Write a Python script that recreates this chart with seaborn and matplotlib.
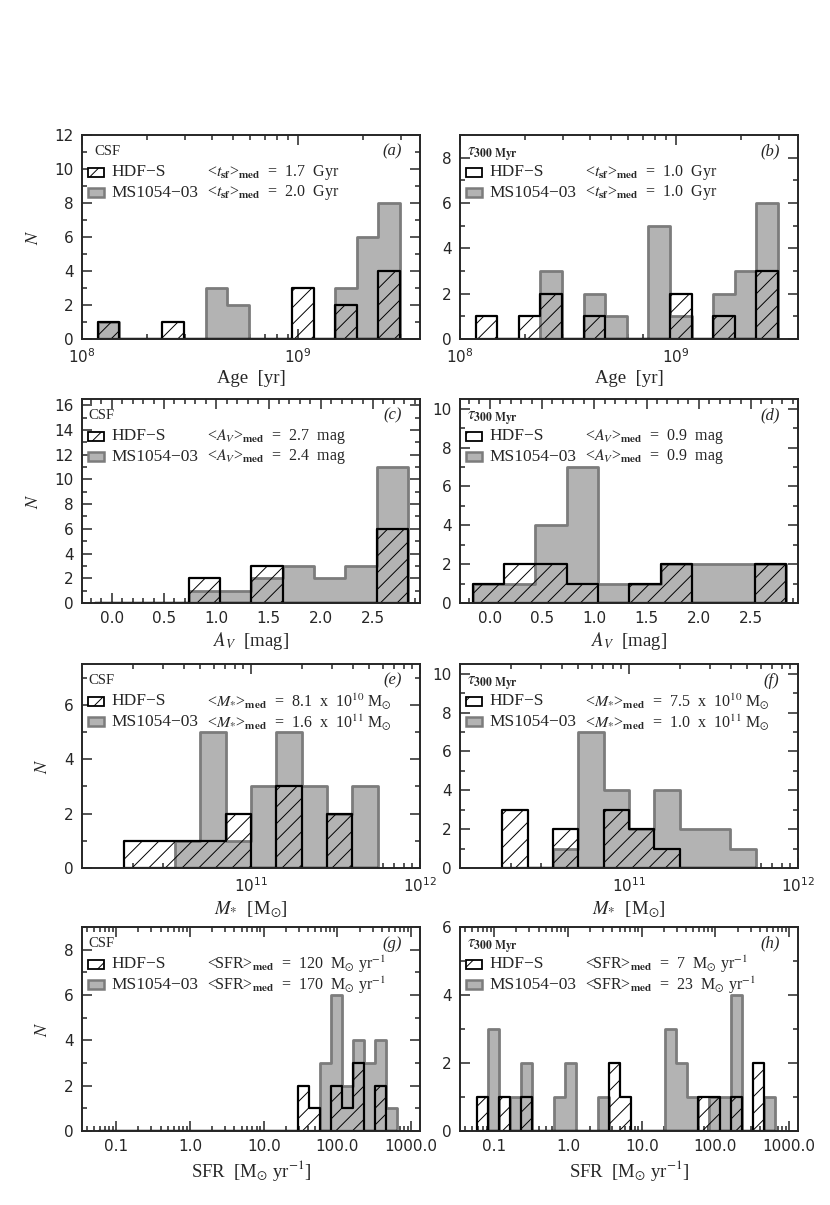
import matplotlib
matplotlib.use('Agg')
import matplotlib.pyplot as plt
from matplotlib.patches import Rectangle
from matplotlib.ticker import (MultipleLocator, FixedLocator, FuncFormatter,
                               NullFormatter, LogLocator, LogFormatterSciNotation)
import numpy as np
import seaborn as sns

# ------------------------------------------------------------------
# counts per bin (HDF-S = hatched, MS1054-03 = grey)
# ------------------------------------------------------------------

# age, log10(t / yr) bin edges, used by (a) and (b)
age_edges = [8.072, 8.172, 8.272, 8.372, 8.472, 8.572, 8.672, 8.772,
             8.872, 8.972, 9.072, 9.172, 9.272, 9.372, 9.472]
age_csf_hdfs = [1, 0, 0, 1, 0, 0, 0, 0, 0, 3, 0, 2, 0, 4]
age_csf_ms = [1, 0, 0, 0, 0, 3, 2, 0, 0, 0, 0, 3, 6, 8]
age_tau_hdfs = [1, 0, 1, 2, 0, 1, 0, 0, 0, 2, 0, 1, 0, 3]
age_tau_ms = [0, 0, 0, 3, 0, 2, 1, 0, 5, 1, 0, 2, 3, 6]

# A_V [mag] bin edges, used by (c) and (d)
av_edges = [-0.165, 0.135, 0.435, 0.735, 1.035, 1.335, 1.635, 1.935,
            2.235, 2.535, 2.835]
av_csf_hdfs = [0, 0, 0, 2, 0, 3, 0, 0, 0, 6]
av_csf_ms = [0, 0, 0, 1, 1, 2, 3, 2, 3, 11]
av_tau_hdfs = [1, 2, 2, 1, 0, 1, 2, 0, 0, 2]
av_tau_ms = [1, 1, 4, 7, 1, 1, 2, 2, 2, 2]

# stellar mass, log10(M / Msun) bin edges, used by (e) and (f)
mass_edges = [10.25, 10.40, 10.55, 10.70, 10.85, 11.00, 11.15, 11.30,
              11.45, 11.60, 11.75]
mass_csf_hdfs = [1, 1, 1, 1, 2, 0, 3, 0, 2, 0]
mass_csf_ms = [0, 0, 1, 5, 1, 3, 5, 3, 2, 3]
mass_tau_hdfs = [3, 0, 2, 0, 3, 2, 1, 0, 0, 0]
mass_tau_ms = [0, 0, 1, 7, 4, 2, 4, 2, 2, 1]

# SFR, log10(SFR / Msun yr^-1) bin edges, used by (g) and (h)
sfr_edges = [-1.24, -1.09, -0.94, -0.79, -0.64, -0.49, -0.34, -0.19, -0.04,
             0.11, 0.26, 0.41, 0.56, 0.71, 0.86, 1.01, 1.16, 1.31, 1.46,
             1.61, 1.76, 1.91, 2.06, 2.21, 2.36, 2.51, 2.66, 2.81]
sfr_csf_hdfs = [0, 0, 0, 0, 0, 0, 0, 0, 0, 0, 0, 0, 0, 0, 0, 0, 0, 0,
                2, 1, 0, 2, 1, 3, 0, 2, 0]
sfr_csf_ms = [0, 0, 0, 0, 0, 0, 0, 0, 0, 0, 0, 0, 0, 0, 0, 0, 0, 0,
              0, 0, 3, 6, 2, 4, 3, 4, 1]
sfr_tau_hdfs = [1, 0, 1, 0, 1, 0, 0, 0, 0, 0, 0, 0, 2, 1, 0, 0, 0, 0,
                0, 0, 1, 1, 0, 1, 0, 2, 0]
sfr_tau_ms = [0, 3, 0, 1, 2, 0, 0, 1, 2, 0, 0, 1, 0, 0, 0, 0, 0, 3,
              2, 1, 0, 1, 1, 4, 0, 0, 1]

# medians quoted in the keys
med_age = [['1.7', '2.0'], ['1.0', '1.0']]
med_av = [['2.7', '2.4'], ['0.9', '0.9']]
med_mass = [[('8.1', '10'), ('1.6', '11')], [('7.5', '10'), ('1.0', '11')]]
med_sfr = [['120', '170'], ['7', '23']]

GREY_FILL = '#b3b3b3'
GREY_EDGE = '#7c7c7c'
SERIF = ['Liberation Serif', 'DejaVu Serif']

sns.set_style('ticks')
plt.rcParams['font.family'] = ['DejaVu Sans']
plt.rcParams['mathtext.fontset'] = 'stix'
plt.rcParams['hatch.linewidth'] = 0.7
plt.rcParams['axes.linewidth'] = 1.4


def draw_hists(ax, edges, hdfs, ms, log):
    """grey filled MS1054-03 histogram with the hatched HDF-S one on top"""
    centres = [(lo + hi) / 2 for lo, hi in zip(edges[:-1], edges[1:])]
    if log:
        centres = [10 ** v for v in centres]
    sns.histplot(x=centres, weights=ms, bins=list(edges), element='step', fill=True,
                 color=GREY_FILL, facecolor=GREY_FILL, edgecolor=GREY_EDGE,
                 linewidth=2.0, alpha=1, log_scale=log, ax=ax)
    sns.histplot(x=centres, weights=hdfs, bins=list(edges), element='step', fill=True,
                 color='black', facecolor='none', edgecolor='black', hatch='//',
                 linewidth=1.6, alpha=1, log_scale=log, ax=ax)


def draw_key(ax, col, letter, hdfs_txt, ms_txt):
    if col == 0:
        ax.text(0.038 if letter == 'a' else 0.018, 0.92, 'CSF', transform=ax.transAxes,
                fontsize=10.5, family=SERIF, ha='left', va='center')
    else:
        ax.text(0.02, 0.905, r'$\tau_{\mathbf{300\ Myr}}$', transform=ax.transAxes,
                fontsize=12, ha='left', va='center')
    ax.text(0.945, 0.918, '(%s)' % letter, transform=ax.transAxes, fontsize=12,
            family=SERIF, style='italic', ha='right', va='center')
    rows = [(0.818, 'HDF\u2212S', hdfs_txt, dict(facecolor='white', edgecolor='black',
                                                  hatch='/', linewidth=1.3)),
            (0.716, 'MS1054\u221203', ms_txt, dict(facecolor=GREY_FILL, edgecolor=GREY_EDGE,
                                                    linewidth=1.8))]
    for y, name, med, kw in rows:
        ax.add_patch(Rectangle((0.018, y - 0.022), 0.047, 0.044, transform=ax.transAxes,
                               zorder=5, **kw))
        ax.text(0.088, y, name, transform=ax.transAxes, fontsize=12.5, family=SERIF,
                ha='left', va='center')
        ax.text(0.369, y, med, transform=ax.transAxes, fontsize=11.5, family=SERIF,
                ha='left', va='center')


fig = plt.figure(figsize=(8.3, 12.05), dpi=100)
col_x = [82 / 830, 460 / 830]
ax_w = 338 / 830
row_y = [1 - 339 / 1205, 1 - 603 / 1205, 1 - 868 / 1205, 1 - 1131 / 1205]
ax_h = 204 / 1205

letters = 'abcdefgh'
med_t = r'<$t_{\mathbf{sf}}$>$_{\mathbf{med}}$  =  %s  Gyr'
med_a = r'<$A_V$>$_{\mathbf{med}}$  =  %s  mag'
med_m = r'<$M_{*}$>$_{\mathbf{med}}$  =  %s  x  10$^{%s}$ M$_{\odot}$'
med_s = r'<SFR>$_{\mathbf{med}}$  =  %s  M$_{\odot}$ yr$^{-1}$'

rows = [
    ('age', age_edges, [(age_csf_hdfs, age_csf_ms), (age_tau_hdfs, age_tau_ms)], (8.0, 9.565)),
    ('av', av_edges, [(av_csf_hdfs, av_csf_ms), (av_tau_hdfs, av_tau_ms)], (-0.285, 2.95)),
    ('mass', mass_edges, [(mass_csf_hdfs, mass_csf_ms), (mass_tau_hdfs, mass_tau_ms)], (10.0, 12.0)),
    ('sfr', sfr_edges, [(sfr_csf_hdfs, sfr_csf_ms), (sfr_tau_hdfs, sfr_tau_ms)], (-1.465, 3.12)),
]

for r, (kind, edges, samples, lim) in enumerate(rows):
    for c in range(2):
        ax = fig.add_axes([col_x[c], row_y[r], ax_w, ax_h])
        hdfs, ms = samples[c]
        log = kind != 'av'
        draw_hists(ax, edges, hdfs, ms, log)

        if kind == 'age':
            ax.set_xlim(10 ** lim[0], 10 ** lim[1])
            ax.xaxis.set_major_locator(LogLocator(base=10))
            ax.xaxis.set_major_formatter(LogFormatterSciNotation())
            xlabel = 'Age  [yr]'
            keys = [med_t % v for v in med_age[c]]
        elif kind == 'av':
            ax.set_xlim(*lim)
            ax.xaxis.set_major_locator(MultipleLocator(0.5))
            ax.xaxis.set_minor_locator(MultipleLocator(0.1))
            ax.xaxis.set_major_formatter(FuncFormatter(lambda v, p: '%.1f' % (v + 0.0)))
            xlabel = r'$A_V$  [mag]'
            keys = [med_a % v for v in med_av[c]]
        elif kind == 'mass':
            ax.set_xlim(10 ** lim[0], 10 ** lim[1])
            ax.xaxis.set_major_locator(FixedLocator([1e11, 1e12]))
            ax.xaxis.set_major_formatter(LogFormatterSciNotation())
            xlabel = r'$M_{*}$  [M$_{\odot}$]'
            keys = [med_m % v for v in med_mass[c]]
        else:
            ax.set_xlim(10 ** lim[0], 10 ** lim[1])
            ax.xaxis.set_major_locator(FixedLocator([0.1, 1, 10, 100, 1000]))
            ax.xaxis.set_major_formatter(FuncFormatter(lambda v, p: '%.1f' % v))
            xlabel = r'SFR  [M$_{\odot}$ yr$^{-1}$]'
            keys = [med_s % v for v in med_sfr[c]]
        if log:
            ax.xaxis.set_minor_locator(LogLocator(base=10, subs=np.arange(2, 10)))
            ax.xaxis.set_minor_formatter(NullFormatter())

        ax.set_ylim(0, 1.5 * max(ms))
        ax.yaxis.set_major_locator(MultipleLocator(2))
        ax.yaxis.set_minor_locator(MultipleLocator(1))

        ax.tick_params(which='both', direction='in', top=True, right=True,
                       labelsize=11, width=1.1)
        ax.tick_params(which='major', length=7, pad=6)
        ax.tick_params(which='minor', length=3.5)

        ax.set_xlabel(xlabel, fontsize=13.5, family=SERIF, labelpad=3)
        if c == 0:
            ax.set_ylabel(r'$N$', fontsize=13, labelpad=9)
        else:
            ax.set_ylabel('')

        draw_key(ax, c, letters[2 * r + c], keys[0], keys[1])

plt.savefig('out.png', dpi=100)
